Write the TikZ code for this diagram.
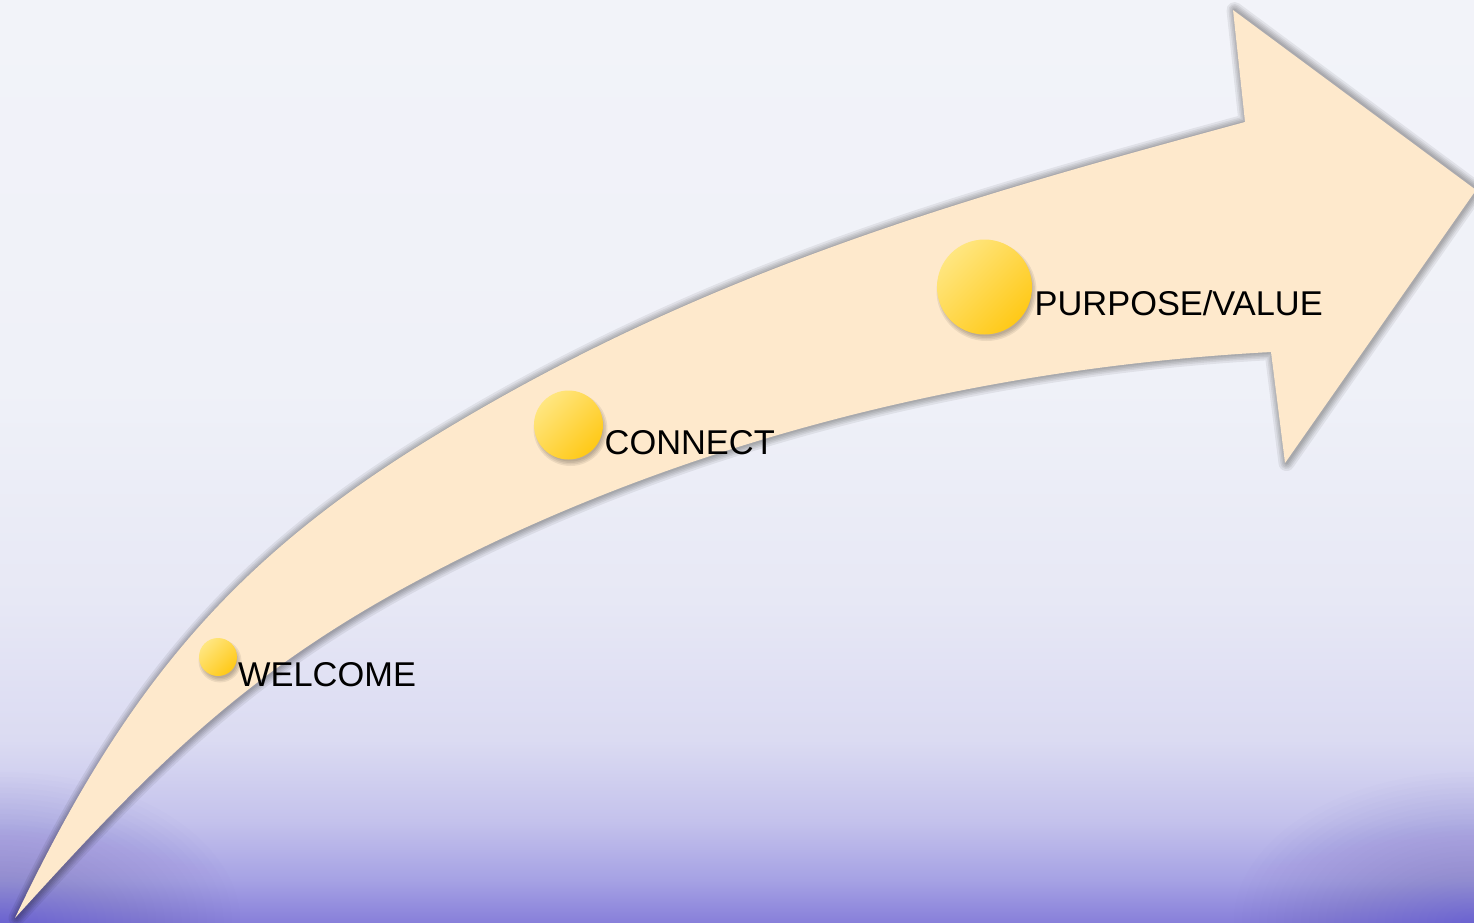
\documentclass[tikz,border=0pt]{standalone}
\usepackage{fontspec}
\setmainfont{Liberation Sans}
\definecolor{peach}{HTML}{FEE9CC}
\definecolor{ballLight}{HTML}{FFE680}
\definecolor{ballDark}{HTML}{FFC917}
\definecolor{cornerPurple}{HTML}{6C62D0}
\definecolor{bgA}{HTML}{8880DA}
\definecolor{bgB}{HTML}{A6A2E4}
\definecolor{bgC}{HTML}{C4C2EC}
\definecolor{bgD}{HTML}{DBDBF2}
\definecolor{bgE}{HTML}{E7E8F5}
\definecolor{bgF}{HTML}{EFF1F8}
\definecolor{bgG}{HTML}{F2F3F9}
\pgfdeclareverticalshading{bgshade}{100bp}{color(0bp)=(bgA); color(25bp)=(bgA); color(27.3bp)=(bgB); color(30.5bp)=(bgC); color(34.9bp)=(bgD); color(42.5bp)=(bgE); color(54bp)=(bgF); color(75bp)=(bgG); color(100bp)=(bgG)}
\tikzset{
  ball/.style={circle, inner sep=0pt, draw=none, top color=ballLight, bottom color=ballDark, shading angle=45},
  lbl/.style={anchor=base west, inner sep=0pt, text=black, font=\fontsize{34.4}{41}\selectfont},
  glow/.style={draw=black, opacity=0.065, line join=round, fill=none},
  cornerglow/.style={fill=cornerPurple, opacity=0.016}
}
\def\arrowpath{(15,918) .. controls (125,687) and (233,559) .. (433,437)
  .. controls (706,270) and (965,198) .. (1245,122)
  -- (1233,10) -- (1476,190) -- (1285,463) -- (1271,352)
  .. controls (971,368) and (664,445) .. (400,590)
  .. controls (234,681.6) and (143,777) .. (15,918) -- cycle}
\begin{document}
\begin{tikzpicture}[x=1pt,y=-1pt]
\useasboundingbox (0,0) rectangle (1474,922);
\clip (0,0) rectangle (1474,922);
\shade[shading=bgshade] (0,0) rectangle (1474,922);
\foreach \s in {1,0.965,...,0.05} {
  \fill[cornerglow] (0,922) ellipse[x radius=240*\s, y radius=150*\s];
  \fill[cornerglow] (1474,922) ellipse[x radius=240*\s, y radius=150*\s];
}
% arrow shadow
\foreach \w in {16,12,9,6,3}
  \draw[glow, line width=\w pt, xshift=1.5pt] \arrowpath;
% arrow
\fill[peach] \arrowpath;
% ball shadows
\foreach \cx/\cy/\r in {218/657/19, 568.5/425/34.5, 984.5/287/47.5}
  \foreach \k in {0,1.5,3,4.5}
    \fill[black, opacity=0.07] (\cx+2,\cy+4) circle[radius=\r+\k-2];
% balls
\node[ball, minimum size=38pt] (dotW) at (218,657) {};
\node[ball, minimum size=69pt] (dotC) at (568.5,425) {};
\node[ball, minimum size=95pt] (dotP) at (984.5,287) {};
% labels
\node[lbl] (welcome) at (238,686) {WELCOME};
\node[lbl] (connect) at (604.5,454.5) {CONNECT};
\node[lbl] (purpose) at (1034.5,315) {PURPOSE/VALUE};
\end{tikzpicture}
\end{document}
